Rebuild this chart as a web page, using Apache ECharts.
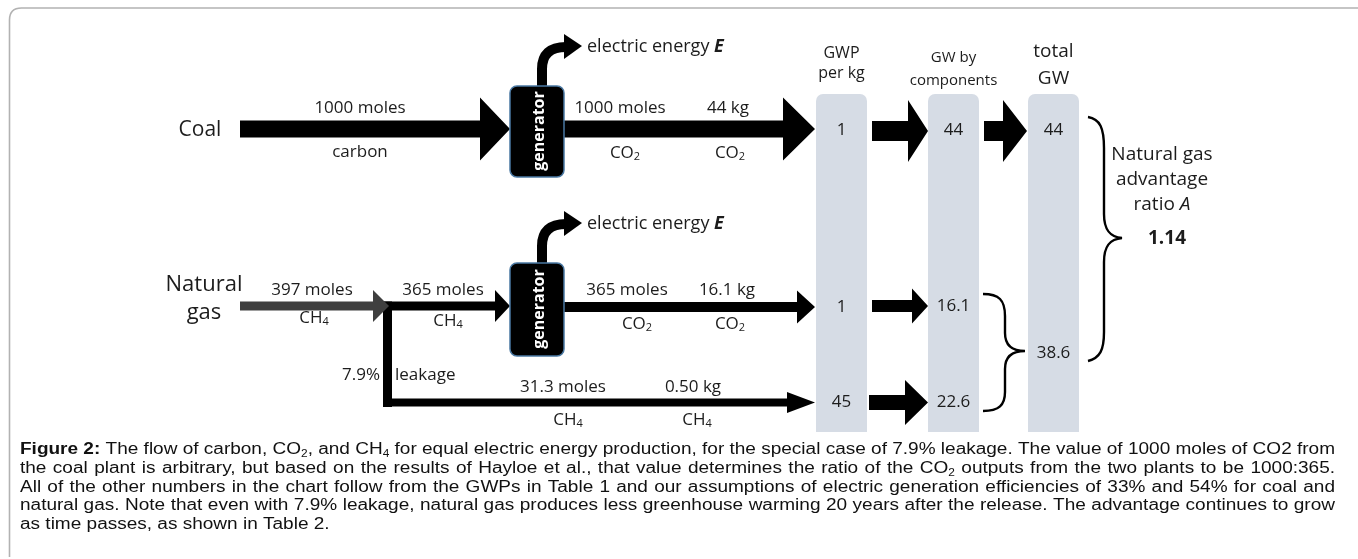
<!DOCTYPE html>
<html><head><meta charset="utf-8">
<script src="https://cdn.jsdelivr.net/npm/echarts@6/dist/echarts.min.js"></script>
<style>html,body{margin:0;padding:0;background:#fff}#c{width:1358px;height:559px}</style>
</head><body><div id="c"></div>
<script>
// ---------------- data ----------------
const rowLabels = ['Coal', 'Natural\ngas'];
const columnHeaders = ['GWP\nper kg', 'GW by\ncomponents', 'total\nGW'];
const coalMoles = [1000, 1000];          // carbon in, CO2 out
const coalKg = [44];                     // CO2
const gasMoles = [397, 365, 365, 31.3];  // CH4 in, CH4 burned, CO2 out, CH4 leaked
const gasKg = [16.1, 0.50];              // CO2, CH4
const leakagePct = [7.9];
const gwpPerKg = [1, 1, 45];             // coal CO2, gas CO2, gas CH4
const gwByComponent = [44, 16.1, 22.6];
const totalGW = [44, 38.6];
const advantageRatio = [1.14];
const captionLines = [
  '**Figure 2:** The flow of carbon, CO_2, and CH_4 for equal electric energy production, for the special case of 7.9% leakage. The value of 1000 moles of CO2 from',
  'the coal plant is arbitrary, but based on the results of Hayloe et al., that value determines the ratio of the CO_2 outputs from the two plants to be 1000:365.',
  'All of the other numbers in the chart follow from the GWPs in Table 1 and our assumptions of electric generation efficiencies of 33% and 54% for coal and',
  'natural gas. Note that even with 7.9% leakage, natural gas produces less greenhouse warming 20 years after the release. The advantage continues to grow',
  'as time passes, as shown in Table 2.'
];

// ---------------- styles / layout ----------------
const F = "'Open Sans', sans-serif";
const CF = "'Liberation Sans', Arial, sans-serif";
const INK = '#1c1c1c';
const COL_FILL = '#d6dce5';
const colX = [816, 928, 1028], colW = 51, colTop = 94, colBottom = 432;
const colC = colX.map(x => x + colW / 2);
const rowY = {coal: 129, gas: 306, leak: 402.5};

const subRich = {
  s: {fontFamily: F, fontSize: 11, fill: INK, padding: [8, 0, 0, 0]},
  bi: {fontFamily: F, fontSize: 18, fill: INK, fontWeight: 'bold', fontStyle: 'italic'},
  i: {fontFamily: F, fontSize: 19, fill: INK, fontStyle: 'italic'}
};
const subText = s => s.replace(/_(\d)/g, '{s|$1}');
const moles = v => v + ' moles';
const kg = (v, d) => v.toFixed(d) + ' kg';

function T(P, x, y, text, o) {
  o = o || {};
  const p = P(x, y);
  return {type: 'text', x: p[0], y: p[1], rotation: o.rot || 0,
    style: {text: text, fill: o.fill || INK, fontFamily: o.ff || F, fontSize: o.fs || 17,
      fontWeight: o.fw || 'normal', fontStyle: o.fst || 'normal',
      align: o.align || 'center', verticalAlign: 'middle', rich: o.rich || subRich}};
}
function arrow(P, x0, xb, xt, cy, ht, hh, fill) {
  const pts = [[x0, cy - ht], [xb, cy - ht], [xb, cy - hh], [xt, cy], [xb, cy + hh], [xb, cy + ht], [x0, cy + ht]]
    .map(q => P(q[0], q[1]));
  return {type: 'polygon', shape: {points: pts}, style: {fill: fill || '#000'}};
}
function pathOf(P, cmds) {
  return cmds.map(c => {
    const nums = c.slice(1), pts = [];
    for (let i = 0; i < nums.length; i += 2) { const p = P(nums[i], nums[i + 1]); pts.push(p[0].toFixed(1) + ' ' + p[1].toFixed(1)); }
    return c[0] + ' ' + pts.join(' ');
  }).join(' ');
}

// ---------------- builders ----------------
function buildFrame(P) {
  return [{type: 'path', shape: {pathData: pathOf(P, [['M', 9.5, 557], ['L', 9.5, 20], ['Q', 9.5, 8, 21.5, 8], ['L', 1358, 8]])},
    style: {fill: 'none', stroke: '#b2b2b2', lineWidth: 1.6}}];
}
function buildColumns(P) {
  const out = [];
  colX.forEach((x, i) => {
    const a = P(x, colTop), b = P(x + colW, colBottom);
    out.push({type: 'rect', shape: {x: a[0], y: a[1], width: b[0] - a[0], height: b[1] - a[1], r: [7, 7, 0, 0]},
      style: {fill: COL_FILL}});
  });
  const hdrY = [[53, 73], [58, 81], [52, 79]], hdrFs = [16, 15, 19];
  columnHeaders.forEach((h, i) => {
    h.split('\n').forEach((line, j) => out.push(T(P, colC[i], hdrY[i][j], line, {fs: hdrFs[i]})));
  });
  return out;
}
function buildArrows(P) {
  const o = [];
  // coal
  o.push(arrow(P, 240, 480, 510, rowY.coal, 8.5, 31.5));
  o.push(arrow(P, 564, 783, 815, rowY.coal, 8.5, 31.5));
  o.push(arrow(P, 872, 908, 928, 131, 10, 31));
  o.push(arrow(P, 984, 1003, 1027, 131, 10, 31));
  // gas
  const v1 = P(383, rowY.gas - 4.5), v2 = P(392, rowY.leak + 4.5);
  o.push({type: 'rect', shape: {x: v1[0], y: v1[1], width: v2[0] - v1[0], height: v2[1] - v1[1]}, style: {fill: '#000'}});
  o.push(arrow(P, 383, 495, 510, rowY.gas, 4.5, 16));
  o.push(arrow(P, 383, 787, 815, rowY.leak, 4, 10.5));
  o.push(arrow(P, 240, 373, 389, rowY.gas, 4.5, 16, '#3f3f3f'));
  o.push(arrow(P, 564, 797, 815, 307, 5, 16.5));
  o.push(arrow(P, 872, 912, 928, 306, 6, 17.5));
  o.push(arrow(P, 869, 905, 928, rowY.leak, 7.5, 22.5));
  return o;
}
function buildGenerators(P) {
  const o = [];
  [[86, 91, 131], [263, 93, 309]].forEach(g => {
    const top = g[0];
    o.push({type: 'path', shape: {pathData: pathOf(P, [['M', 542, top + 2], ['L', 542, top - 17], ['Q', 542, top - 39, 566, top - 39]])},
      style: {fill: 'none', stroke: '#000', lineWidth: 10}});
    o.push({type: 'polygon', shape: {points: [[564, top - 52], [582, top - 40], [564, top - 27]].map(q => P(q[0], q[1]))}, style: {fill: '#000'}});
    o.push(T(P, 587, top - 39, 'electric energy {bi|E}', {fs: 18, align: 'left'}));
    const a = P(510, top), b = P(564, top + g[1]);
    o.push({type: 'rect', shape: {x: a[0], y: a[1], width: b[0] - a[0], height: b[1] - a[1], r: 7},
      style: {fill: '#000', stroke: '#4a78a2', lineWidth: 1.5}});
    o.push(T(P, 539, g[2], 'generator', {fs: 16, fw: 'bold', fill: '#fff', rot: Math.PI / 2}));
  });
  return o;
}
function buildLabels(P) {
  const o = [];
  const L = (x, y, t, opt) => o.push(T(P, x, y, subText(t), opt));
  L(200, 130, rowLabels[0], {fs: 21});
  const ng = rowLabels[1].split('\n');
  L(204, 285, ng[0], {fs: 22});
  L(204, 313, ng[1], {fs: 22});
  // coal flow
  L(360, 108, moles(coalMoles[0])); L(360, 152, 'carbon');
  L(620, 108, moles(coalMoles[1])); L(625, 153, 'CO_2');
  L(728, 108, kg(coalKg[0], 0)); L(730, 153, 'CO_2');
  // gas flow
  L(312, 290, moles(gasMoles[0])); L(314, 318, 'CH_4');
  L(443, 290, moles(gasMoles[1])); L(448, 321, 'CH_4');
  L(627, 290, moles(gasMoles[2])); L(637, 324, 'CO_2');
  L(727, 290, kg(gasKg[0], 1)); L(730, 324, 'CO_2');
  L(380, 375, leakagePct[0] + '%', {align: 'right'});
  L(395, 375, 'leakage', {align: 'left'});
  L(563, 387, moles(gasMoles[3])); L(568, 420, 'CH_4');
  L(693, 387, kg(gasKg[1], 2)); L(697, 420, 'CH_4');
  // column values
  [130, 307, 402].forEach((y, i) => L(colC[0], y, String(gwpPerKg[i])));
  [130, 306, 402].forEach((y, i) => L(colC[1], y, String(gwByComponent[i])));
  [130, 353].forEach((y, i) => L(colC[2], y, String(totalGW[i])));
  // ratio text
  L(1162, 155, 'Natural gas', {fs: 19});
  L(1162, 180, 'advantage', {fs: 19});
  L(1162, 205, 'ratio {i|A}', {fs: 19});
  L(1167, 239, advantageRatio[0].toFixed(2), {fs: 19, fw: 'bold'});
  return o;
}
function buildBraces(P) {
  const st = {fill: 'none', stroke: '#000', lineWidth: 2.4};
  const small = [['M', 983, 294], ['C', 999, 294, 1005, 300, 1005, 316], ['L', 1005, 333], ['C', 1005, 345, 1011, 351, 1025, 351],
    ['C', 1011, 351, 1005, 357, 1005, 369], ['L', 1005, 392], ['C', 1005, 405, 999, 411, 983, 411]];
  const big = [['M', 1088, 117], ['C', 1100, 119, 1104, 128, 1104, 148], ['L', 1104, 214], ['C', 1104, 230, 1110, 237, 1122, 238],
    ['C', 1110, 239, 1104, 246, 1104, 262], ['L', 1104, 332], ['C', 1104, 350, 1100, 358, 1088, 361]];
  return [{type: 'path', shape: {pathData: pathOf(P, small)}, style: st},
          {type: 'path', shape: {pathData: pathOf(P, big)}, style: st}];
}
// caption: justified lines, glyphs widened horizontally like the reference
const CAP_FS = 16, CAP_SUB = 10, CAP_X0 = 20, CAP_X1 = 1335, CAP_Y0 = 450, CAP_DY = 18.6;
const mctx = document.createElement('canvas').getContext('2d');
function mw(t, size, w) { mctx.font = (w || 'normal') + ' ' + size + "px 'Liberation Sans'"; return mctx.measureText(t).width; }
function buildCaption(P) {
  const o = [];
  const rich = {
    n: {fontFamily: CF, fontSize: CAP_FS, fill: '#111'},
    b: {fontFamily: CF, fontSize: CAP_FS, fill: '#111', fontWeight: 'bold'},
    s: {fontFamily: CF, fontSize: CAP_SUB, fill: '#111', padding: [9, 0, 0, 0]}
  };
  const W = CAP_X1 - CAP_X0, sp = mw(' ', CAP_FS);
  const lines = captionLines.map(line => {
    let bold = false;
    return line.split(' ').map(w => {
      let wb = bold;
      if (w.startsWith('**')) { wb = true; w = w.slice(2); bold = true; }
      if (w.endsWith('**')) { w = w.slice(0, -2); bold = false; }
      const parts = w.split(/_(\d)/);
      let txt = '', width = 0;
      parts.forEach((p, k) => {
        if (!p) return;
        if (k % 2 === 1) { txt += '{s|' + p + '}'; width += mw(p, CAP_SUB); }
        else { txt += '{' + (wb ? 'b' : 'n') + '|' + p + '}'; width += mw(p, CAP_FS, wb ? 'bold' : 'normal'); }
      });
      return {txt, width};
    });
  });
  // horizontal stretch so that the tightest full line has normal word spacing
  let sx = Infinity;
  lines.slice(0, -1).forEach(ws => {
    const tot = ws.reduce((a, w) => a + w.width, 0);
    sx = Math.min(sx, W / (tot + (ws.length - 1) * sp));
  });
  lines.forEach((ws, li) => {
    const total = ws.reduce((a, w) => a + w.width, 0) * sx;
    const last = li === lines.length - 1;
    const gap = last ? sp * sx : (W - total) / (ws.length - 1);
    let x = CAP_X0;
    const y = CAP_Y0 + li * CAP_DY;
    ws.forEach(w => {
      const p = P(x, y);
      o.push({type: 'text', x: p[0], y: p[1], scaleX: sx, style: {text: w.txt, rich: rich, align: 'left', verticalAlign: 'middle',
        fontFamily: CF, fontSize: CAP_FS, fill: '#111'}});
      x += w.width * sx + gap;
    });
  });
  return o;
}

function series(builder, z) {
  return {type: 'custom', coordinateSystem: 'cartesian2d', data: [[0, 0]], clip: false, silent: true, z: z,
    renderItem: (params, api) => ({type: 'group', children: builder((x, y) => api.coord([x, y]))})};
}

const chart = echarts.init(document.getElementById('c'));
chart.setOption({
  animation: false,
  backgroundColor: '#fff',
  grid: {left: 0, right: 0, top: 0, bottom: 0},
  xAxis: {type: 'value', min: 0, max: 1358, show: false},
  yAxis: {type: 'value', min: 0, max: 559, inverse: true, show: false},
  series: [
    series(buildFrame, 1),
    series(buildColumns, 2),
    series(buildArrows, 3),
    series(buildGenerators, 4),
    series(buildBraces, 4),
    series(buildLabels, 5),
    series(buildCaption, 5)
  ]
});
</script></body></html>
